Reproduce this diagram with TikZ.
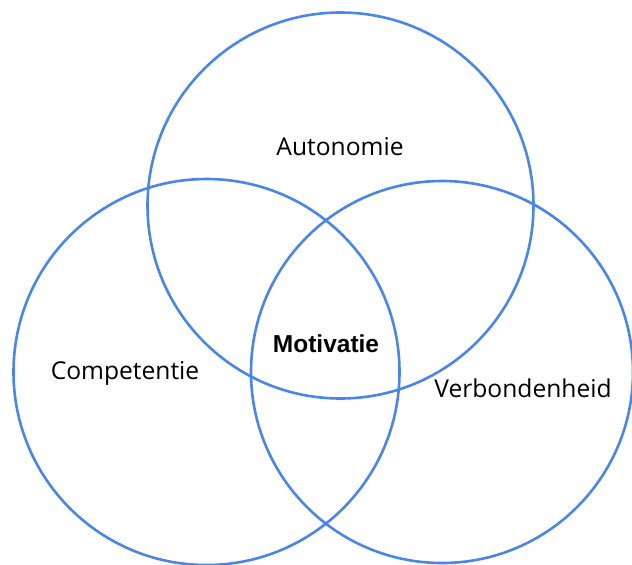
\documentclass[tikz,border=0pt]{standalone}
\usepackage{fontspec}
\setmainfont{Open Sans}
\newfontfamily\coresans{Liberation Sans}
\definecolor{ringblue}{RGB}{74,134,232}

\begin{document}
\begin{tikzpicture}[
    x = 1pt, y = -1pt,
    ring/.style = { draw = ringblue, line width = 2.6pt },
    every node/.style = {
      inner sep = 0pt, font = \fontsize{24.6}{29}\selectfont
    },
    core/.style = { font = \coresans\bfseries\fontsize{24.5}{29}\selectfont }
  ]
  \useasboundingbox (0, 0) rectangle (632, 565);
  \clip (0, 0) rectangle (632, 565);

  \coordinate (auto) at (340.5, 205.5);
  \coordinate (comp) at (206.5, 372);
  \coordinate (verb) at (442, 372);

  \draw[ring] (auto) circle[radius = 193pt];
  \draw[ring] (comp) circle[radius = 193pt];
  \draw[ring] (verb) circle[radius = 191pt];

  \node (autolabel) at (340, 147) {Autonomie};
  \node (complabel) at (125, 373) {Competentie};
  \node (verblabel) at (523, 388) {Verbondenheid};
  \node[core] (motivatie) at (326, 344) {Motivatie};
\end{tikzpicture}
\end{document}
